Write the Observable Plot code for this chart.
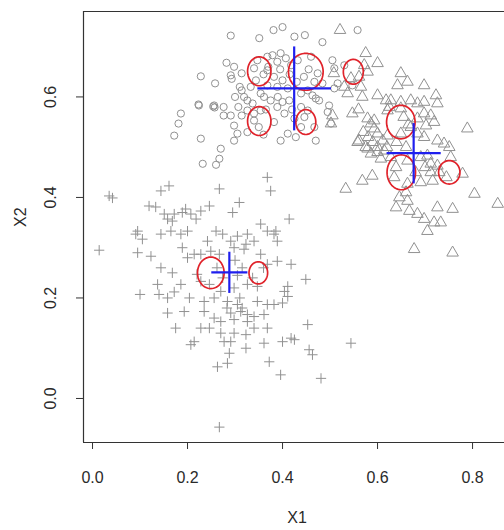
<!DOCTYPE html>
<html>
<head>
<meta charset="utf-8">
<script src="https://cdn.jsdelivr.net/npm/d3@7"></script>
<script src="https://cdn.jsdelivr.net/npm/@observablehq/plot@0.6"></script>
<style>
  html, body { margin: 0; padding: 0; background: #fff; overflow: hidden; }
  #chart svg { display: block; }
  #chart svg text { font-family: "Liberation Sans", Arial, sans-serif !important; }
</style>
</head>
<body>
<div id="chart"></div>
<script>
// ---------- data ----------
const xTicks = [0, 0.2, 0.4, 0.6, 0.8];
const yTicks = [0, 0.2, 0.4, 0.6];

// cluster 1: circles (X1, X2)
const circlesX1 = [0.291,0.351,0.381,0.400,0.425,0.447,0.484,0.558,0.228,0.258,0.282,0.291,0.293,0.314,0.298,0.223,0.254,0.257,0.276,0.291,0.276,0.186,0.181,0.172,0.228,0.270,0.267,0.260,0.232,0.298,0.305,0.314,0.319,0.326,0.337,0.307,0.340,0.368,0.379,0.396,0.407,0.389,0.382,0.400,0.418,0.432,0.460,0.474,0.467,0.484,0.470,0.477,0.498,0.495,0.502,0.467,0.470,0.411,0.396,0.428,0.382,0.389,0.404,0.375,0.354,0.340,0.361,0.414,0.439,0.453,0.439,0.453,0.463,0.368,0.389,0.411,0.333,0.344,0.354,0.505,0.509,0.516,0.509,0.530,0.547,0.298,0.326,0.340,0.425,0.439,0.446,0.314,0.326,0.368,0.347,0.360,0.370,0.395,0.415,0.430,0.445,0.455,0.390,0.400,0.420,0.365,0.350,0.360,0.300,0.310,0.224,0.256];
const circlesX2 = [0.722,0.717,0.733,0.739,0.720,0.723,0.709,0.733,0.641,0.627,0.668,0.643,0.636,0.647,0.660,0.585,0.581,0.579,0.580,0.563,0.563,0.567,0.547,0.523,0.517,0.497,0.477,0.465,0.467,0.513,0.527,0.613,0.600,0.593,0.587,0.580,0.657,0.653,0.683,0.687,0.677,0.670,0.640,0.633,0.663,0.673,0.680,0.647,0.630,0.627,0.597,0.593,0.583,0.570,0.547,0.540,0.513,0.527,0.513,0.520,0.550,0.580,0.567,0.593,0.573,0.567,0.600,0.593,0.580,0.573,0.607,0.613,0.603,0.623,0.620,0.617,0.620,0.633,0.607,0.673,0.657,0.627,0.617,0.663,0.623,0.543,0.530,0.553,0.557,0.540,0.560,0.563,0.573,0.680,0.673,0.645,0.660,0.655,0.645,0.630,0.640,0.655,0.600,0.590,0.575,0.575,0.540,0.525,0.600,0.620,0.583,0.583];

// cluster 2: triangles (X1, X2)
const trianglesX1 = [0.521,0.575,0.600,0.572,0.561,0.579,0.508,0.544,0.530,0.565,0.537,0.568,0.547,0.505,0.502,0.558,0.575,0.649,0.642,0.663,0.698,0.600,0.628,0.649,0.670,0.684,0.723,0.726,0.698,0.579,0.586,0.593,0.600,0.611,0.621,0.561,0.579,0.586,0.600,0.614,0.628,0.607,0.698,0.712,0.719,0.702,0.684,0.698,0.726,0.740,0.751,0.754,0.789,0.705,0.712,0.726,0.779,0.804,0.853,0.533,0.568,0.589,0.635,0.663,0.691,0.716,0.712,0.639,0.663,0.667,0.684,0.698,0.705,0.719,0.733,0.726,0.758,0.677,0.758,0.593,0.618,0.625,0.649,0.670,0.684,0.691,0.663,0.639,0.646,0.660,0.621,0.649,0.580,0.590,0.570,0.600,0.620,0.640,0.660,0.680,0.700,0.730,0.745,0.655,0.665,0.560];
const trianglesX2 = [0.733,0.687,0.667,0.663,0.640,0.650,0.647,0.637,0.620,0.620,0.607,0.600,0.567,0.563,0.547,0.510,0.500,0.647,0.623,0.630,0.623,0.603,0.593,0.590,0.593,0.587,0.603,0.587,0.590,0.557,0.547,0.537,0.527,0.513,0.523,0.513,0.497,0.487,0.500,0.493,0.480,0.477,0.567,0.563,0.550,0.543,0.527,0.520,0.513,0.507,0.500,0.480,0.537,0.483,0.467,0.463,0.447,0.407,0.387,0.417,0.433,0.443,0.440,0.427,0.430,0.433,0.450,0.380,0.393,0.373,0.367,0.357,0.333,0.350,0.350,0.380,0.377,0.297,0.290,0.553,0.593,0.580,0.527,0.540,0.557,0.480,0.473,0.460,0.400,0.410,0.573,0.577,0.520,0.510,0.530,0.490,0.500,0.510,0.500,0.450,0.460,0.450,0.440,0.560,0.545,0.575];

// cluster 3: plus signs (X1, X2)
const plusX1 = [0.014,0.035,0.042,0.100,0.095,0.091,0.105,0.095,0.119,0.133,0.144,0.161,0.151,0.158,0.172,0.168,0.144,0.165,0.186,0.200,0.123,0.144,0.137,0.140,0.158,0.158,0.175,0.193,0.168,0.186,0.204,0.189,0.200,0.214,0.207,0.218,0.228,0.246,0.267,0.309,0.295,0.368,0.375,0.414,0.354,0.368,0.386,0.389,0.382,0.242,0.260,0.274,0.291,0.305,0.326,0.323,0.340,0.228,0.249,0.267,0.298,0.319,0.354,0.368,0.389,0.418,0.449,0.404,0.411,0.228,0.246,0.270,0.298,0.326,0.347,0.235,0.256,0.284,0.305,0.312,0.326,0.347,0.368,0.235,0.256,0.270,0.291,0.298,0.326,0.340,0.361,0.382,0.400,0.228,0.246,0.270,0.298,0.323,0.340,0.368,0.207,0.214,0.277,0.291,0.323,0.361,0.400,0.418,0.425,0.263,0.284,0.288,0.372,0.396,0.453,0.456,0.463,0.481,0.544,0.267,0.411,0.189,0.196,0.172,0.220,0.262,0.300,0.315,0.274,0.337,0.360,0.305,0.283,0.315,0.310];
const plusX2 = [0.295,0.403,0.399,0.207,0.333,0.327,0.317,0.290,0.383,0.381,0.413,0.423,0.367,0.357,0.367,0.353,0.327,0.333,0.327,0.333,0.283,0.260,0.227,0.207,0.200,0.170,0.140,0.173,0.250,0.227,0.200,0.300,0.280,0.287,0.367,0.357,0.373,0.383,0.417,0.390,0.370,0.440,0.413,0.357,0.347,0.333,0.333,0.313,0.327,0.313,0.333,0.327,0.313,0.323,0.327,0.307,0.313,0.287,0.293,0.287,0.300,0.297,0.287,0.267,0.273,0.267,0.237,0.213,0.203,0.233,0.227,0.213,0.220,0.227,0.223,0.193,0.200,0.193,0.187,0.173,0.167,0.193,0.187,0.173,0.160,0.153,0.170,0.157,0.153,0.163,0.167,0.187,0.190,0.140,0.140,0.130,0.130,0.127,0.140,0.140,0.107,0.113,0.113,0.113,0.100,0.110,0.113,0.120,0.117,0.063,0.070,0.090,0.073,0.047,0.147,0.097,0.087,0.040,0.110,-0.057,0.223,0.370,0.377,0.212,0.247,0.260,0.275,0.260,0.240,0.240,0.260,0.245,0.180,0.180,0.200];

// red ellipses: centre and semi-axes (data units)
const ellipseX1 = [0.351,0.449,0.549,0.351,0.449,0.649,0.650,0.751,0.249,0.349];
const ellipseX2 = [0.651,0.650,0.650,0.552,0.550,0.550,0.450,0.450,0.250,0.250];
const ellipseRx = [0.0246,0.0365,0.0210,0.0246,0.0210,0.0300,0.0300,0.0225,0.0280,0.0196];
const ellipseRy = [0.0287,0.0367,0.0247,0.0287,0.0247,0.0333,0.0347,0.0233,0.0313,0.0220];

// blue crosses: centre and half-extents (data units)
const crossX1 = [0.4245,0.676,0.288];
const crossX2 = [0.617,0.488,0.251];
const crossHalfW = [0.0775,0.057,0.038];
const crossHalfH = [0.0835,0.060,0.041];

// ---------- derived tables ----------
const toPts = (xs, ys) => xs.map((x, i) => ({x, y: ys[i]}));
const circles = toPts(circlesX1, circlesX2);
const triangles = toPts(trianglesX1, trianglesX2);
const pluses = toPts(plusX1, plusX2);

const ellipsePts = [];
ellipseX1.forEach((cx, i) => {
  const n = 60;
  for (let k = 0; k <= n; k++) {
    const a = (2 * Math.PI * k) / n;
    ellipsePts.push({id: i, x: cx + ellipseRx[i] * Math.cos(a), y: ellipseX2[i] + ellipseRy[i] * Math.sin(a)});
  }
});
const crosses = crossX1.map((x, i) => ({x, y: crossX2[i], hw: crossHalfW[i], hh: crossHalfH[i]}));

const xDomain = [-0.019, 0.882];
const yDomain = [-0.0876, 0.770];
const gray = "#919191";
const font = "'Liberation Sans', Arial, sans-serif";
const fmt = d3.format(".1f");

const chart = Plot.plot({
  width: 504,
  height: 530,
  marginLeft: 83,
  marginRight: 0,
  marginTop: 11,
  marginBottom: 88,
  style: {fontFamily: font, fontSize: "16px", color: "#2a2a2a", background: "#fff", overflow: "visible"},
  x: {domain: xDomain, range: [83, 511]},
  y: {domain: yDomain},
  marks: [
    Plot.dot(circles, {x: "x", y: "y", symbol: "circle", r: 3.6, stroke: gray, fill: "none", strokeWidth: 1}),
    Plot.dot(triangles, {x: "x", y: "y", symbol: "triangle", r: 4.3, stroke: gray, fill: "none", strokeWidth: 1}),
    Plot.dot(pluses, {x: "x", y: "y", symbol: "plus", r: 3.4, stroke: gray, fill: "none", strokeWidth: 1}),
    Plot.line(ellipsePts, {x: "x", y: "y", z: "id", stroke: "#e0222a", strokeWidth: 1.7}),
    Plot.link(crosses, {x1: d => d.x - d.hw, x2: d => d.x + d.hw, y1: "y", y2: "y", stroke: "#1f1fee", strokeWidth: 2.2}),
    Plot.link(crosses, {x1: "x", x2: "x", y1: d => d.y - d.hh, y2: d => d.y + d.hh, stroke: "#1f1fee", strokeWidth: 2.2}),
    // box (right side lies outside the picture)
    Plot.ruleY([yDomain[0], yDomain[1]], {stroke: "#333", strokeWidth: 1.2}),
    Plot.ruleX([xDomain[0]], {stroke: "#333", strokeWidth: 1.2}),
    // axes
    Plot.axisX({ticks: xTicks, tickSize: 7, tickPadding: 22, tickFormat: fmt, label: null, stroke: "#333", fontSize: 16}),
    Plot.axisY({ticks: yTicks, tickSize: 7, tickFormat: () => "", label: null, stroke: "#333"}),
    Plot.text(yTicks, {y: d => d, text: d => fmt(d), frameAnchor: "left", dx: -33, rotate: -90, textAnchor: "middle", fontSize: 16, fill: "#2a2a2a"}),
    Plot.text(["X1"], {text: d => d, frameAnchor: "bottom", dx: 3, dy: 80, fontSize: 16, fill: "#2a2a2a"}),
    Plot.text(["X2"], {text: d => d, frameAnchor: "left", dx: -63, rotate: -90, fontSize: 16, fill: "#2a2a2a"})
  ]
});
document.getElementById("chart").appendChild(chart);
</script>
</body>
</html>
